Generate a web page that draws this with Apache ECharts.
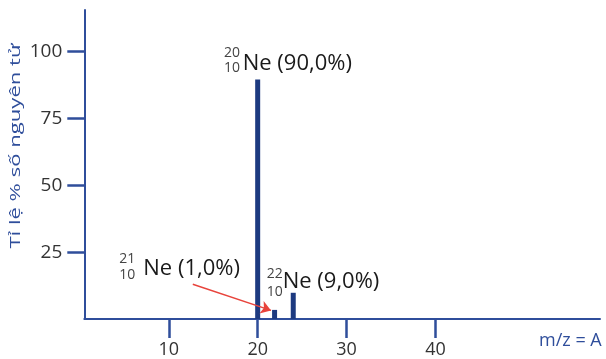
<!DOCTYPE html>
<html><head><meta charset="utf-8">
<script src="https://cdn.jsdelivr.net/npm/echarts@6/dist/echarts.min.js"></script>
<style>html,body{margin:0;padding:0;background:#fff}#c{width:606px;height:359px}</style>
</head><body><div id="c"></div>
<script>
// ---- data ----
const massNumbers = ['20', '21', '22'];
const atomicNumber = '10';
const isotopeTexts = ['Ne (90,0%)', 'Ne (1,0%)', 'Ne (9,0%)'];
const barPositions = [20, 21.9, 24];      // where the bars sit on the m/z axis in the drawing
const barHeights = [89.5, 3.4, 9.8];      // bar heights as drawn (percent scale)
const xTickValues = [10, 20, 30, 40];
const yTickValues = [25, 50, 75, 100];
const yAxisTitle = 'Tỉ lệ % số nguyên tử';
const xAxisTitle = 'm/z = A';
const arrowStart = [12.7, 13.0];
const arrowEnd = [21.5, 3.2];

const AXIS = '#2f4e9b', BAR = '#1d3a80', FONT = '"Open Sans", "Noto Sans", sans-serif';
const chart = echarts.init(document.getElementById('c'), null, {renderer: 'canvas'});

const barData = barPositions.map((x, i) => [x, barHeights[i]]);

// label anchor layout (pixels) for the three isotope annotations
const labelLayout = [
  {supX: 224, supY: 53.5, subY: 68.5, mainX: 242.7, mainY: 64},
  {supX: 119.3, supY: 259.5, subY: 275, mainX: 143.3, mainY: 269},
  {supX: 266.7, supY: 273.8, subY: 291.7, mainX: 282.7, mainY: 281.7}
];
const graphics = [];
labelLayout.forEach((L, i) => {
  graphics.push({type: 'text', x: L.supX, y: L.supY, silent: true,
    style: {text: massNumbers[i], font: '14px ' + FONT, fill: '#444', verticalAlign: 'middle', align: 'left'}});
  graphics.push({type: 'text', x: L.supX, y: L.subY, silent: true,
    style: {text: atomicNumber, font: '14px ' + FONT, fill: '#444', verticalAlign: 'middle', align: 'left'}});
  graphics.push({type: 'text', x: L.mainX, y: L.mainY, silent: true,
    style: {text: isotopeTexts[i], font: '22px ' + FONT, fill: '#1a1a1a', verticalAlign: 'middle', align: 'left'}});
});
graphics.push({type: 'text', x: 16, y: 146, rotation: Math.PI / 2, scaleX: 1.3, scaleY: 0.85, silent: true,
  style: {text: yAxisTitle, font: '17px ' + FONT, fill: AXIS, align: 'center', verticalAlign: 'middle'}});
graphics.push({type: 'text', x: 539, y: 341, silent: true,
  style: {text: xAxisTitle, font: '18px ' + FONT, fill: AXIS, align: 'left', verticalAlign: 'middle'}});

chart.setOption({
  animation: false,
  backgroundColor: '#fff',
  grid: {left: 84.3, right: 6, top: 10, bottom: 39.8},
  xAxis: {
    type: 'value', min: 0.5, max: 58.5,
    splitLine: {show: false},
    axisLine: {show: true, onZero: false, lineStyle: {color: AXIS, width: 2}},
    axisTick: {show: true, customValues: xTickValues, length: 19, lineStyle: {color: AXIS, width: 2.5}},
    axisLabel: {customValues: xTickValues, margin: 22, color: '#333', fontSize: 18, fontFamily: FONT}
  },
  yAxis: {
    type: 'value', min: 0, max: 115.5,
    splitLine: {show: false},
    axisLine: {show: true, lineStyle: {color: AXIS, width: 2}},
    axisTick: {show: true, customValues: yTickValues, length: 17, lineStyle: {color: AXIS, width: 2.5}},
    axisLabel: {customValues: yTickValues, margin: 22, color: '#333', fontSize: 19, fontFamily: FONT}
  },
  series: [{
    type: 'bar', data: barData, barWidth: 5, itemStyle: {color: BAR}, silent: true,
    markLine: {
      silent: true, symbol: ['none', 'arrow'], symbolSize: 10, label: {show: false},
      lineStyle: {color: '#e8433b', width: 1.4, type: 'solid'},
      data: [[{coord: arrowStart}, {coord: arrowEnd}]]
    }
  }],
  graphic: graphics
});
</script></body></html>
